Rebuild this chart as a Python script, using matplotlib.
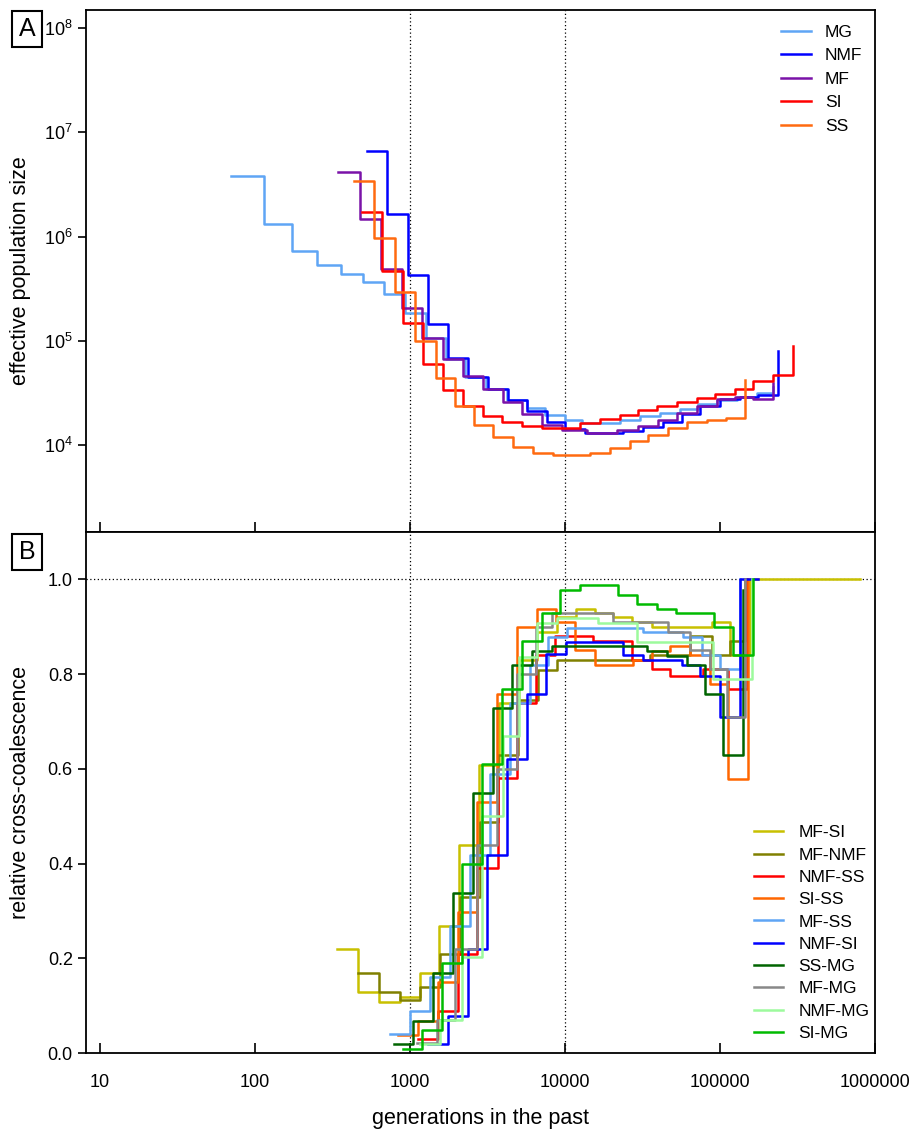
import matplotlib
matplotlib.use('Agg')
import matplotlib.pyplot as plt
import matplotlib.ticker as ticker

plt.rcParams['font.family'] = ['Liberation Sans', 'DejaVu Sans']
plt.rcParams['mathtext.fontset'] = 'custom'
plt.rcParams['mathtext.rm'] = 'Liberation Sans'

# ---- panel A: effective population size (step starts, last point = end of curve)
mg_t = [70, 114, 173, 251, 357, 497, 679, 929, 1267, 1700, 2265, 3090, 4230, 5690, 7430,
        10000, 12900, 22600, 30500, 41000, 55000, 72000, 96000, 129000, 173000, 220000]
mg_ne = [3.8e6, 1.33e6, 7.3e5, 5.3e5, 4.4e5, 3.66e5, 2.83e5, 1.86e5, 1.07e5, 6.7e4, 4.5e4, 3.45e4,
         2.7e4, 2.27e4, 1.94e4, 1.74e4, 1.63e4, 1.74e4, 1.87e4, 2.03e4, 2.22e4, 2.48e4, 2.7e4,
         2.9e4, 3.16e4, 3.6e4]

nmf_t = [526, 713, 975, 1313, 1766, 2376, 3200, 4290, 5690, 7650, 10000, 13500, 23700, 31800,
         42900, 56800, 74300, 100000, 135000, 176000, 237000]
nmf_ne = [6.7e6, 1.63e6, 4.3e5, 1.46e5, 6.8e4, 4.5e4, 3.45e4, 2.7e4, 2.09e4, 1.67e4, 1.43e4,
          1.3e4, 1.36e4, 1.47e4, 1.67e4, 1.97e4, 2.33e4, 2.75e4, 2.9e4, 3.0e4, 7.9e4]

mf_t = [344, 475, 650, 883, 1190, 1640, 2210, 2970, 3980, 5280, 7110, 9570, 13900, 21600,
        29600, 39800, 52800, 71000, 96000, 125000, 163000, 220000]
mf_ne = [4.15e6, 1.46e6, 4.9e5, 2.06e5, 1.06e5, 6.6e4, 4.6e4, 3.45e4, 2.6e4, 1.97e4, 1.56e4,
         1.39e4, 1.3e4, 1.39e4, 1.52e4, 1.74e4, 2.02e4, 2.37e4, 2.75e4, 2.9e4, 2.75e4, 3.9e4]

si_t = [488, 656, 897, 1218, 1640, 2210, 2970, 3930, 5280, 7110, 12500, 16800, 22600, 29600,
        39300, 52800, 71000, 93000, 125000, 163000, 220000, 296000]
si_ne = [1.73e6, 4.7e5, 1.48e5, 6.0e4, 3.33e4, 2.33e4, 1.87e4, 1.67e4, 1.5e4, 1.45e4, 1.62e4,
         1.77e4, 1.94e4, 2.17e4, 2.33e4, 2.55e4, 2.81e4, 3.09e4, 3.43e4, 4.06e4, 4.7e4, 8.95e4]

ss_t = [438, 589, 800, 1077, 1465, 1950, 2590, 3430, 4620, 6220, 8380, 14500, 19500, 26200,
        34300, 46200, 61200, 82500, 109000, 145000]
ss_ne = [3.4e6, 9.7e5, 2.9e5, 1.0e5, 4.4e4, 2.37e4, 1.56e4, 1.19e4, 9.6e3, 8.3e3, 7.9e3, 8.3e3,
         9.3e3, 1.08e4, 1.25e4, 1.45e4, 1.64e4, 1.74e4, 1.81e4, 4.2e4]

pops_a = ['MG', 'NMF', 'MF', 'SI', 'SS']
colors_a = ['#5fa5f5', '#0000ff', '#7a12a8', '#ff0000', '#ff6a10']

# ---- panel B: relative cross-coalescence
mf_si_t = [340, 464, 633, 861, 1161, 1545, 2080, 2800, 3750, 5045, 6590, 8880, 11800, 15600,
           20400, 27100, 36400, 88700, 116000, 156000, 800000]
mf_si_v = [0.219, 0.129, 0.108, 0.119, 0.168, 0.269, 0.439, 0.609, 0.738, 0.829, 0.889, 0.92,
           0.938, 0.929, 0.920, 0.91, 0.90, 0.91, 0.84, 1.0, 1.0]

mf_nmf_t = [464, 631, 861, 1161, 1563, 2104, 2832, 3700, 4980, 6700, 8880, 35300, 64000,
            88700, 116000, 145000]
mf_nmf_v = [0.168, 0.129, 0.112, 0.140, 0.209, 0.330, 0.488, 0.630, 0.745, 0.808, 0.829,
            0.84, 0.88, 0.84, 0.87, 1.0]

nmf_ss_t = [1127, 1517, 2042, 2706, 3670, 4900, 6500, 8610, 15200, 27100, 36400, 47600,
            77600, 113000, 149000]
nmf_ss_v = [0.029, 0.089, 0.209, 0.390, 0.580, 0.739, 0.840, 0.880, 0.869, 0.829, 0.810,
            0.797, 0.810, 0.769, 1.0]

si_ss_t = [837, 1127, 1517, 2042, 2706, 3640, 4900, 6590, 8750, 11600, 15600, 27500, 36400,
           47600, 64000, 86000, 113000, 152000]
si_ss_v = [0.039, 0.068, 0.150, 0.297, 0.530, 0.759, 0.899, 0.938, 0.910, 0.850, 0.819,
           0.829, 0.849, 0.859, 0.840, 0.780, 0.578, 1.0]

mf_ss_t = [743, 1000, 1346, 1810, 2440, 3280, 4420, 5940, 7770, 10300, 31800, 57700, 76500,
           100000, 135000]
mf_ss_v = [0.040, 0.089, 0.161, 0.269, 0.418, 0.589, 0.740, 0.819, 0.878, 0.898, 0.889,
           0.878, 0.840, 0.810, 1.0]

nmf_si_t = [1306, 1758, 2366, 3140, 4230, 5690, 7530, 10100, 23700, 31800, 56800, 74300,
            100000, 135000, 176000]
nmf_si_v = [0.018, 0.078, 0.219, 0.419, 0.620, 0.759, 0.842, 0.868, 0.840, 0.829, 0.819,
            0.797, 0.710, 1.0, 1.0]

ss_mg_t = [789, 1050, 1413, 1900, 2540, 3420, 4520, 6100, 8200, 33800, 45500, 61200, 80000,
           104000, 141000]
ss_mg_v = [0.018, 0.068, 0.168, 0.338, 0.549, 0.728, 0.819, 0.849, 0.859, 0.848, 0.838,
           0.819, 0.759, 0.630, 0.977]

mf_mg_t = [1116, 1500, 1960, 2700, 3640, 4900, 6500, 8300, 20400, 46500, 64000, 86000,
           111000, 145000]
mf_mg_v = [0.021, 0.07, 0.219, 0.44, 0.60, 0.80, 0.90, 0.929, 0.91, 0.889, 0.85, 0.81,
           0.71, 1.0]

nmf_mg_t = [1161, 1563, 2160, 2915, 3980, 5045, 6590, 8880, 16300, 29000, 90000, 161000]
nmf_mg_v = [0.02, 0.07, 0.203, 0.50, 0.669, 0.836, 0.908, 0.918, 0.907, 0.868, 0.789, 1.0]

si_mg_t = [902, 1194, 1607, 2160, 2915, 3930, 5280, 7110, 9290, 12500, 22000, 29000, 39300,
           52000, 91000, 121000, 163000]
si_mg_v = [0.008, 0.049, 0.190, 0.40, 0.610, 0.769, 0.870, 0.928, 0.978, 0.989, 0.968, 0.949,
           0.938, 0.929, 0.899, 0.84, 1.0]

pairs_b = ['MF-SI', 'MF-NMF', 'NMF-SS', 'SI-SS', 'MF-SS', 'NMF-SI', 'SS-MG', 'MF-MG',
           'NMF-MG', 'SI-MG']
colors_b = ['#c8c000', '#808000', '#ff0000', '#ff6600', '#5fa5f5', '#0000ff', '#006400',
            '#888888', '#9dfa9d', '#00bb00']

xticks = [10, 100, 1000, 10000, 100000, 1000000]

fig = plt.figure(figsize=(9.13, 11.3), dpi=100)
axA = fig.add_axes([86 / 913, 1 - 532 / 1130, 789 / 913, 522 / 1130])
axB = fig.add_axes([86 / 913, 1 - 1053 / 1130, 789 / 913, 521 / 1130])

series_a = [(mg_t, mg_ne), (nmf_t, nmf_ne), (mf_t, mf_ne), (si_t, si_ne), (ss_t, ss_ne)]
for (t, v), name, c in zip(series_a, pops_a, colors_a):
    axA.step(t, v, where='post', color=c, lw=1.8, label=name)

series_b = [(mf_si_t, mf_si_v), (mf_nmf_t, mf_nmf_v), (nmf_ss_t, nmf_ss_v), (si_ss_t, si_ss_v),
            (mf_ss_t, mf_ss_v), (nmf_si_t, nmf_si_v), (ss_mg_t, ss_mg_v), (mf_mg_t, mf_mg_v),
            (nmf_mg_t, nmf_mg_v), (si_mg_t, si_mg_v)]
for (t, v), name, c in zip(series_b, pairs_b, colors_b):
    axB.step(t, v, where='post', color=c, lw=1.8, label=name)

for ax in (axA, axB):
    ax.set_xscale('log')
    ax.set_xlim(8.12, 1e6)
    ax.set_xticks(xticks)
    ax.xaxis.set_minor_locator(ticker.NullLocator())
    ax.tick_params(axis='x', direction='in', length=7, width=1.2)
    ax.tick_params(axis='y', direction='out', length=6, width=1.2, labelsize=13)
    for s in ax.spines.values():
        s.set_linewidth(1.3)
    for xv in (1000, 10000):
        ax.axvline(xv, color='k', lw=0.9, ls=(0, (1, 2)), zorder=0)

axA.set_yscale('log')
axA.set_ylim(1.45e3, 1.5e8)
axA.set_yticks([1e4, 1e5, 1e6, 1e7, 1e8])
axA.yaxis.set_minor_locator(ticker.NullLocator())
axA.tick_params(axis='x', labelbottom=False)
axA.set_ylabel('effective population size', fontsize=15.5)
axA.yaxis.set_label_coords(-0.07, 0.5)
axA.legend(loc='upper left', bbox_to_anchor=(0.881, 0.972), frameon=False, fontsize=12.5,
           handlelength=1.72, handletextpad=0.8, labelspacing=0.48, borderpad=0,
           borderaxespad=0)

axB.set_ylim(0, 1.1)
axB.set_yticks([0.0, 0.2, 0.4, 0.6, 0.8, 1.0])
axB.yaxis.set_major_formatter(ticker.FormatStrFormatter('%.1f'))
axB.axhline(1.0, color='k', lw=0.9, ls=(0, (1, 2)), zorder=0)
axB.set_xticklabels([str(x) for x in xticks])
axB.tick_params(axis='x', labelsize=13, pad=15)
axB.set_ylabel('relative cross-coalescence', fontsize=15.5)
axB.yaxis.set_label_coords(-0.07, 0.5)
axB.set_xlabel('generations in the past', fontsize=15.5)
axB.xaxis.set_label_coords(0.5, -0.105)
axB.legend(loc='upper left', bbox_to_anchor=(0.847, 0.437), frameon=False, fontsize=12.5,
           handlelength=1.67, handletextpad=0.86, labelspacing=0.41, borderpad=0,
           borderaxespad=0)

box = dict(boxstyle='square,pad=0.25', facecolor='white', edgecolor='k', lw=1.5)
fig.text(27 / 913, 1 - 29 / 1130, 'A', fontsize=18, ha='center', va='center', bbox=box)
fig.text(27 / 913, 1 - 552 / 1130, 'B', fontsize=18, ha='center', va='center', bbox=box)

fig.savefig('out.png', dpi=100)
